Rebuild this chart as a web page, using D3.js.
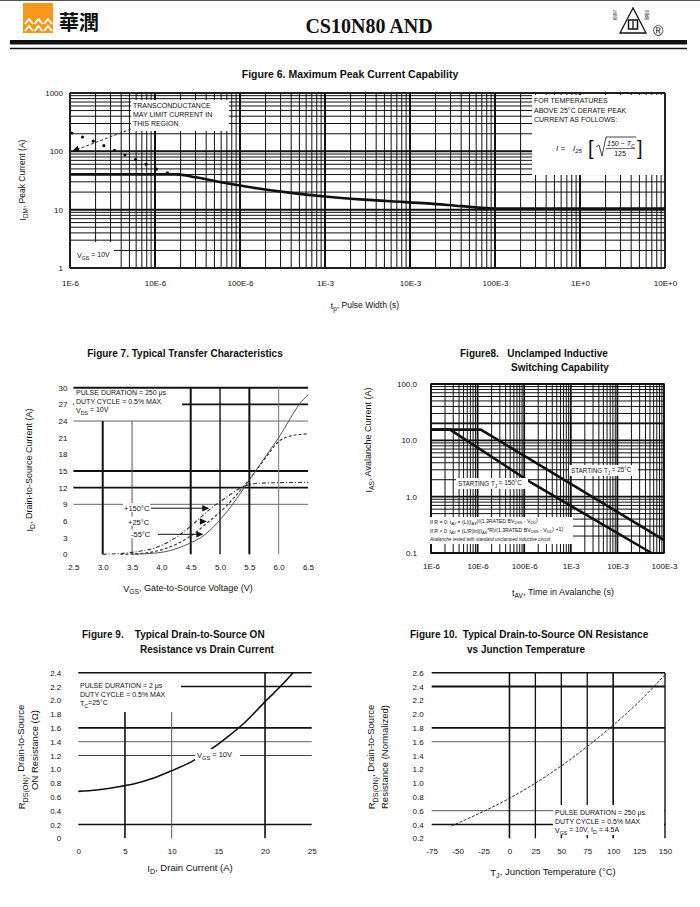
<!DOCTYPE html>
<meta charset="utf-8">
<script src="https://d3js.org/d3.v7.min.js"></script>
<style>
  body { margin: 0; background: #fff; }
  svg text { font-family: "Liberation Sans", Arial, sans-serif; fill: #111; white-space: pre; }
</style>
<div id="page"></div>
<script>

// ---------------- data ----------------

// Figure 6 - maximum peak current vs pulse width
var f6Width   = [1e-6, 1.8e-5, 3e-5, 7e-5, 1.5e-4, 4.2e-4, 1e-3, 2.6e-3, 6e-3, 1.6e-2, 4e-2, 8.5e-2, 1.2e-1, 10];
var f6Current = [40.3, 40.3, 36, 28.3, 23.5, 19.2, 16.8, 15, 13.9, 12.8, 11.5, 10.6, 10.5, 10.5];
// transconductance limit (dotted)
var f6LimWidth   = [1.05e-6, 2e-6, 3.7e-6, 6.8e-6, 1.3e-5, 1.9e-5];
var f6LimCurrent = [206, 144, 97, 66, 44, 40.3];
var f6XTicks = [1e-6, 1e-5, 1e-4, 1e-3, 1e-2, 1e-1, 1, 10];
var f6XLabels = ["1E-6", "10E-6", "100E-6", "1E-3", "10E-3", "100E-3", "1E+0", "10E+0"];
var f6YTicks = [1, 10, 100, 1000];

// Figure 7 - transfer characteristics (VGS, ID)
var vgs150 = [3.0, 3.5, 4.0, 4.3, 4.6, 4.85, 5.1, 5.4, 5.6, 6.0, 6.5];
var id150  = [0, 0.35, 1.6, 3.4, 6.0, 8.3, 10.2, 12.2, 12.75, 12.9, 12.95];
var vgs25  = [3.3, 3.7, 4.0, 4.5, 4.81, 5.1, 5.4, 5.6, 5.8, 6.0, 6.2, 6.5];
var id25   = [0, 0.2, 0.8, 3.3, 5.9, 8.6, 12.2, 14.9, 17.7, 20.3, 21.3, 21.7];
var vgsM55 = [3.5, 4.0, 4.4, 4.75, 5.0, 5.2, 5.4, 5.6, 5.8, 6.0, 6.2, 6.35, 6.5];
var idM55  = [0, 0.35, 1.6, 3.6, 6.2, 8.8, 11.8, 14.9, 18, 21, 24.5, 27, 28.7];
var f7Temps = ["+150°C", "+25°C", "-55°C"];
var f7ArrowVgs = [4.85, 4.81, 4.75];
var f7ArrowId  = [8.3, 5.9, 3.6];
var f7XTicks = [2.5, 3.0, 3.5, 4.0, 4.5, 5.0, 5.5, 6.0, 6.5];
var f7YTicks = [0, 3, 6, 9, 12, 15, 18, 21, 24, 27, 30];

// Figure 8 - unclamped inductive switching
var tav25  = [1e-6, 1.17e-5, 1e-1];
var ias25  = [15.5, 15.5, 0.17];
var tav150 = [1e-6, 2.56e-6, 1.45e-4, 5.4e-2];
var ias150 = [15.5, 15.5, 1.75, 0.1];
var f8XTicks = [1e-6, 1e-5, 1e-4, 1e-3, 1e-2, 1e-1];
var f8XLabels = ["1E-6", "10E-6", "100E-6", "1E-3", "10E-3", "100E-3"];
var f8YTicks = [0.1, 1, 10, 100];

// Figure 9 - RDS(on) vs drain current
var f9Id  = [0, 2, 4, 6, 8, 10, 12, 14, 16, 18, 20, 22, 23];
var f9Rds = [0.68, 0.70, 0.74, 0.79, 0.87, 0.98, 1.10, 1.27, 1.47, 1.70, 1.98, 2.25, 2.40];
var f9XTicks = [0, 5, 10, 15, 20, 25];
var f9YTicks = [0, 0.2, 0.4, 0.6, 0.8, 1.0, 1.2, 1.4, 1.6, 1.8, 2.0, 2.2, 2.4];

// Figure 10 - normalized RDS(on) vs junction temperature
var f10Tj  = [-56, -25, 0, 25, 50, 75, 100, 125, 150];
var f10Rds = [0.38, 0.59, 0.78, 1.0, 1.25, 1.53, 1.84, 2.18, 2.57];
var f10XTicks = [-75, -50, -25, 0, 25, 50, 75, 100, 125, 150];
var f10YTicks = [0.2, 0.4, 0.6, 0.8, 1.0, 1.2, 1.4, 1.6, 1.8, 2.0, 2.2, 2.4, 2.6];

// ---------------- helpers ----------------

var svg = d3.select("#page").append("svg")
    .attr("width", 700)
    .attr("height", 907)
    .style("background", "#fff");

function logValues(lo, hi) {
  var out = [];
  for (var e = Math.floor(Math.log10(lo)); e <= Math.ceil(Math.log10(hi)); e++)
    for (var m = 1; m <= 9; m++) {
      var v = m * Math.pow(10, e);
      if (v >= lo * 0.999 && v <= hi * 1.001) out.push(v);
    }
  return out;
}
function isDecade(v) { var l = Math.log10(v); return Math.abs(l - Math.round(l)) < 1e-9; }

// text with subscripts: parts = [["I"], ["DM", true], [", Peak Current (A)"]]
function rich(sel, parts) {
  var prevSub = false;
  parts.forEach(function(p) {
    var t = sel.append("tspan").text(p[0]);
    if (p[1]) { t.attr("font-size", "0.75em").attr("dy", prevSub ? 0 : "0.35em"); prevSub = true; }
    else if (prevSub) { t.attr("dy", "-0.35em"); prevSub = false; }
  });
  return sel;
}
function label(x, y, parts, size, anchor) {
  var t = svg.append("text").attr("x", x).attr("y", y)
      .attr("font-size", size || 9).attr("text-anchor", anchor || "start");
  return rich(t, parts);
}
function vlabel(x, y, parts, size) {
  var t = svg.append("text").attr("transform", "translate(" + x + "," + y + ") rotate(-90)")
      .attr("font-size", size || 9).attr("text-anchor", "middle");
  return rich(t, parts);
}
function title(x, y, txt, size, anchor) {
  svg.append("text").attr("x", x).attr("y", y).attr("font-size", size || 10)
      .attr("font-weight", "bold").attr("text-anchor", anchor || "middle").text(txt);
}
function hline(x1, x2, y, w, c) {
  svg.append("line").attr("x1", x1).attr("x2", x2).attr("y1", y).attr("y2", y)
      .attr("stroke", c || "#111").attr("stroke-width", w || 1);
}
function vline(x, y1, y2, w, c) {
  svg.append("line").attr("x1", x).attr("x2", x).attr("y1", y1).attr("y2", y2)
      .attr("stroke", c || "#111").attr("stroke-width", w || 1);
}
function whiteBox(x, y, w, h) {
  svg.append("rect").attr("x", x).attr("y", y).attr("width", w).attr("height", h).attr("fill", "#fff");
}
function styleAxis(g, size) {
  g.select(".domain").remove();
  g.attr("font-family", null).attr("font-size", size || 8);
  g.selectAll("text").attr("fill", "#111");
}
function curve(x, y, xs, ys, kind) {
  return d3.line().x(function(d) { return x(d[0]); }).y(function(d) { return y(d[1]); })
      .curve(kind || d3.curveMonotoneX)(d3.zip(xs, ys));
}
function arrowHead(tipX, tipY, angle, size) {
  var s = size || 6;
  svg.append("path").attr("d", "M0,0 L" + (-s) + "," + (-s / 2.2) + " L" + (-s) + "," + (s / 2.2) + "Z")
      .attr("transform", "translate(" + tipX + "," + tipY + ") rotate(" + angle + ")")
      .attr("fill", "#111");
}

// ---------------- page header ----------------

hline(0, 700, 0.5, 1, "#555");
svg.append("rect").attr("x", 23).attr("y", 3).attr("width", 30).attr("height", 30).attr("fill", "#f7981d");
[0, 1, 2].forEach(function(i) {
  [19, 26].forEach(function(yy) {
    var x0 = 25 + i * 9.5;
    svg.append("path").attr("d", "M" + x0 + "," + (yy + 5) + " L" + (x0 + 4) + "," + yy + " L" + (x0 + 8) + "," + (yy + 5))
        .attr("fill", "none").attr("stroke", "#fff").attr("stroke-width", 2);
  });
});
svg.append("text").attr("x", 59).attr("y", 30).attr("font-size", 20)
    .style("font-family", "'Noto Sans CJK TC'").attr("font-weight", "bold").text("華潤");
svg.append("text").attr("x", 369).attr("y", 33).attr("font-size", 20).attr("font-weight", "bold")
    .attr("text-anchor", "middle").style("font-family", "'Liberation Serif', 'Times New Roman', serif")
    .text("CS10N80 AND");
svg.append("path").attr("d", "M633,8 L620,33 L646,33 Z").attr("fill", "none").attr("stroke", "#111").attr("stroke-width", 1.3);
svg.append("rect").attr("x", 628.5).attr("y", 20).attr("width", 9).attr("height", 9).attr("fill", "none").attr("stroke", "#111").attr("stroke-width", 1.5);
vline(633, 21, 29, 1.3);
svg.append("text").attr("x", 615).attr("y", 10).attr("font-size", 5).style("font-family", "'Noto Sans CJK SC'").attr("writing-mode", "tb").text("认证");
svg.append("text").attr("x", 647).attr("y", 10).attr("font-size", 5).style("font-family", "'Noto Sans CJK SC'").attr("writing-mode", "tb").text("品质");
svg.append("text").attr("x", 653).attr("y", 36).attr("font-size", 14).text("®");
svg.append("rect").attr("x", 10).attr("y", 40).attr("width", 677).attr("height", 4.5).attr("fill", "#111");
hline(10, 687, 48.5, 1.3);

// ---------------- Figure 6 ----------------

var x6 = d3.scaleLog().domain([1e-6, 10]).range([70, 665]);
var y6 = d3.scaleLog().domain([1, 1000]).range([268, 93]);

title(350, 78, "Figure 6. Maximum Peak Current Capability", 10.5);

logValues(1e-6, 10).forEach(function(v) { vline(x6(v), 93, 268, isDecade(v) ? 2 : 1); });
logValues(1, 1000).forEach(function(v) { hline(70, 665, y6(v), isDecade(v) ? 2 : 1); });
svg.append("rect").attr("x", 70).attr("y", 93).attr("width", 595).attr("height", 175)
    .attr("fill", "none").attr("stroke", "#333");

// text boxes
whiteBox(131, 100, 98, 31);
label(133, 108, [["TRANSCONDUCTANCE"]], 7);
label(133, 117, [["MAY LIMIT CURRENT IN"]], 7);
label(133, 126, [["THIS REGION"]], 7);

whiteBox(532, 95, 132, 80);
label(534, 103, [["FOR TEMPERATURES"]], 7);
label(534, 113, [["ABOVE 25°C DERATE PEAK"]], 7);
label(534, 122, [["CURRENT AS FOLLOWS:"]], 7);
svg.append("text").attr("x", 556).attr("y", 151).attr("font-size", 8).attr("font-style", "italic").text("I =");
label(573, 151, [["I"], ["25", true]], 8).attr("font-style", "italic");
svg.append("text").attr("x", 588).attr("y", 155).attr("font-size", 20).attr("font-weight", "100").text("[");
svg.append("path").attr("d", "M596,147 L599,145 L602,156 L606,137 L636,137")
    .attr("fill", "none").attr("stroke", "#111").attr("stroke-width", 0.8);
label(607, 146, [["150 − T"], ["C", true]], 7).attr("font-style", "italic");
hline(606, 635, 148.5, 0.6);
label(620, 156, [["125"]], 7, "middle");
svg.append("text").attr("x", 637).attr("y", 155).attr("font-size", 20).attr("font-weight", "100").text("]");

whiteBox(71, 242, 43, 25);
label(77, 258, [["V"], ["GS", true], [" = 10V"]], 7);

// curves
svg.append("path").attr("d", curve(x6, y6, f6Width, f6Current))
    .attr("fill", "none").attr("stroke", "#111").attr("stroke-width", 2.6);
svg.append("path").attr("d", curve(x6, y6, f6LimWidth, f6LimCurrent))
    .attr("fill", "none").attr("stroke", "#111").attr("stroke-width", 3.2)
    .attr("stroke-linecap", "round").attr("stroke-dasharray", "0,11.5");
// annotation pointer from the text box to the limit line
var tip6 = [x6(1.06e-6), y6(100)];
svg.append("line").attr("x1", tip6[0]).attr("y1", tip6[1]).attr("x2", 131).attr("y2", 129)
    .attr("stroke", "#333").attr("stroke-dasharray", "3,2");
arrowHead(tip6[0], tip6[1], Math.atan2(tip6[1] - 129, tip6[0] - 131) * 180 / Math.PI, 7);

// axes
var ax6 = svg.append("g").attr("transform", "translate(70,0)")
    .call(d3.axisLeft(y6).tickValues(f6YTicks).tickFormat(d3.format("d")).tickSize(0).tickPadding(7));
styleAxis(ax6);
var bx6 = svg.append("g").attr("transform", "translate(0,268)")
    .call(d3.axisBottom(x6).tickValues(f6XTicks).tickFormat(function(d, i) { return f6XLabels[i]; }).tickSize(0).tickPadding(12));
styleAxis(bx6);
vlabel(26, 180, [["I"], ["DM", true], [", Peak Current (A)"]], 8.5);
label(365, 309, [["t"], ["p", true], [", Pulse Width (s)"]], 8.5, "middle");

// ---------------- Figure 7 ----------------

var x7 = d3.scaleLinear().domain([2.5, 6.5]).range([73.4, 308]);
var y7 = d3.scaleLinear().domain([0, 30]).range([554.3, 387.7]);

title(185, 357, "Figure 7. Typical Transfer Characteristics", 10);

hline(x7(2.5), x7(6.5), y7(30), 2);
hline(x7(2.5), x7(6.5), y7(27), 1.6);
hline(x7(2.5), x7(6.5), y7(24), 1, "#666");
hline(x7(2.5), x7(6.5), y7(15), 2);
hline(x7(2.5), x7(6.5), y7(12), 1.6);
hline(x7(2.5), x7(6.5), y7(9), 1, "#666");
vline(x7(3.0), y7(24), y7(0), 2);
vline(x7(3.5), y7(24), y7(0), 1, "#555");
vline(x7(4.5), y7(30), y7(0), 2);
vline(x7(5.0), y7(30), y7(0), 1.4);
vline(x7(5.5), y7(30), y7(0), 2);
vline(x7(6.0), y7(30), y7(0), 1, "#777");

whiteBox(74, 389, 108, 26);
label(76, 395, [["PULSE DURATION = 250 μs"]], 7);
label(76, 404, [["DUTY CYCLE = 0.5% MAX"]], 7);
label(76, 413, [["V"], ["DS", true], [" = 10V"]], 7);

svg.append("path").attr("d", curve(x7, y7, vgs150, id150))
    .attr("fill", "none").attr("stroke", "#333").attr("stroke-width", 1.1).attr("stroke-dasharray", "4,2,1,2");
svg.append("path").attr("d", curve(x7, y7, vgs25, id25))
    .attr("fill", "none").attr("stroke", "#333").attr("stroke-width", 1.1).attr("stroke-dasharray", "3,2");
svg.append("path").attr("d", curve(x7, y7, vgsM55, idM55))
    .attr("fill", "none").attr("stroke", "#444").attr("stroke-width", 0.9);

var f7LabelX = [124, 128, 131];
f7Temps.forEach(function(t, i) {
  var ty = y7(f7ArrowId[i]);
  var tx = x7(f7ArrowVgs[i]) - 2;
  whiteBox(f7LabelX[i] - 1, ty - 5, 27, 9);
  label(f7LabelX[i], ty + 3, [[t]], 7.5);
  if (i !== 1) hline(f7LabelX[i] + 27, tx - 5, ty, 1);
  arrowHead(tx, ty, 0, 7);
});

var ax7 = svg.append("g").attr("transform", "translate(73.4,0)")
    .call(d3.axisLeft(y7).tickValues(f7YTicks).tickFormat(d3.format("d")).tickSize(0).tickPadding(6));
styleAxis(ax7);
var bx7 = svg.append("g").attr("transform", "translate(0,554.3)")
    .call(d3.axisBottom(x7).tickValues(f7XTicks).tickFormat(d3.format(".1f")).tickSize(0).tickPadding(10));
styleAxis(bx7);
vlabel(33, 470, [["I"], ["D", true], [", Drain-to-Source Current (A)"]], 9);
label(188, 592, [["V"], ["GS", true], [", Gate-to-Source Voltage (V)"]], 9, "middle");

// ---------------- Figure 8 ----------------

var x8 = d3.scaleLog().domain([1e-6, 0.1]).range([431, 664]);
var y8 = d3.scaleLog().domain([0.1, 100]).range([553, 384]);

title(460, 357, "Figure8.   Unclamped Inductive", 10, "start");
title(511, 371, "Switching Capability", 10, "start");

logValues(1e-6, 0.1).forEach(function(v) { vline(x8(v), 384, 553, isDecade(v) ? 1.8 : 1); });
logValues(0.1, 100).forEach(function(v) { hline(431, 664, y8(v), isDecade(v) ? 1.8 : 1); });
hline(431, 664, y8(20), 1.8);
svg.append("rect").attr("x", 431).attr("y", 384).attr("width", 233).attr("height", 169)
    .attr("fill", "none").attr("stroke", "#111").attr("stroke-width", 1.5);

whiteBox(429, 517, 144, 27);
label(430, 524, [["If R = 0: t"], ["AV", true], [" = (L)(I"], ["AS", true], [")/(1.3RATED BV"], ["DSS", true], [" - V"], ["DD", true], [")"]], 5.2);
label(430, 533, [["If R ≠ 0: t"], ["AV", true], [" = (L/R)ln[(I"], ["AS", true], ["*R)/(1.3RATED BV"], ["DSS", true], [" - V"], ["DD", true], [") +1]"]], 5.2);
label(430, 541, [["Avalanche tested with standard unclamped inductive circuit"]], 4.6).attr("font-style", "italic");

svg.append("path").attr("d", curve(x8, y8, tav25, ias25, d3.curveLinear))
    .attr("fill", "none").attr("stroke", "#111").attr("stroke-width", 2.6);
svg.append("path").attr("d", curve(x8, y8, tav150, ias150, d3.curveLinear))
    .attr("fill", "none").attr("stroke", "#111").attr("stroke-width", 2.6);

whiteBox(569, 465, 69, 11);
label(571, 473, [["STARTING T"], ["J", true], [" = 25°C"]], 6.3);
whiteBox(456, 478, 72, 11);
label(458, 486, [["STARTING T"], ["J", true], [" = 150°C"]], 6.3);

var ax8 = svg.append("g").attr("transform", "translate(431,0)")
    .call(d3.axisLeft(y8).tickValues(f8YTicks).tickFormat(d3.format(".1f")).tickSize(0).tickPadding(14));
styleAxis(ax8);
var bx8 = svg.append("g").attr("transform", "translate(0,553)")
    .call(d3.axisBottom(x8).tickValues(f8XTicks).tickFormat(function(d, i) { return f8XLabels[i]; }).tickSize(0).tickPadding(10));
styleAxis(bx8);
vlabel(372, 440, [["I"], ["AS", true], [", Avalanche Current (A)"]], 9);
label(563, 596, [["t"], ["AV", true], [", Time in Avalanche (s)"]], 9, "middle");

// ---------------- Figure 9 ----------------

var x9 = d3.scaleLinear().domain([0, 25]).range([78.3, 311.7]);
var y9 = d3.scaleLinear().domain([0, 2.4]).range([838.3, 672.7]);

title(82, 638, "Figure 9.    Typical Drain-to-Source ON", 10, "start");
title(140, 653, "Resistance vs Drain Current", 10, "start");

hline(x9(0), x9(25), y9(2.4), 1.6);
hline(x9(0), x9(25), y9(2.2), 1.6);
hline(x9(0), x9(25), y9(1.6), 1.6);
hline(x9(0), x9(25), y9(1.4), 1, "#666");
hline(x9(0), x9(25), y9(1.2), 1, "#444");
hline(x9(0), x9(25), y9(0.2), 1.6);
vline(x9(5), y9(1.83), y9(0), 1.6);
vline(x9(10), y9(1.83), y9(0), 1, "#555");
vline(x9(20), y9(2.4), y9(0), 1.6);

whiteBox(78, 677, 103, 31);
label(80, 688, [["PULSE DURATION = 2 μs"]], 7);
label(80, 697, [["DUTY CYCLE = 0.5% MAX"]], 7);
label(80, 706, [["T"], ["C", true], ["=25°C"]], 7);

svg.append("path").attr("d", curve(x9, y9, f9Id, f9Rds))
    .attr("fill", "none").attr("stroke", "#111").attr("stroke-width", 1.6);

whiteBox(195, 749, 45, 12);
label(197, 758, [["V"], ["GS", true], [" = 10V"]], 7.5);

var ax9 = svg.append("g").attr("transform", "translate(78.3,0)")
    .call(d3.axisLeft(y9).tickValues(f9YTicks).tickFormat(function(d) { return d === 0 ? "0" : d3.format(".1f")(d); }).tickSize(0).tickPadding(17));
styleAxis(ax9);
var bx9 = svg.append("g").attr("transform", "translate(0,838.3)")
    .call(d3.axisBottom(x9).tickValues(f9XTicks).tickFormat(d3.format("d")).tickSize(0).tickPadding(10));
styleAxis(bx9);
vlabel(25, 757, [["R"], ["DS(ON)", true], [", Drain-to-Source"]], 9.5);
vlabel(38, 750, [["ON Resistance (Ω)"]], 9.5);
label(190, 872, [["I"], ["D", true], [", Drain Current (A)"]], 9.5, "middle");

// ---------------- Figure 10 ----------------

var x10 = d3.scaleLinear().domain([-75, 150]).range([431.7, 665]);
var y10 = d3.scaleLinear().domain([0.2, 2.6]).range([838.3, 672.7]);

title(410, 638, "Figure 10.  Typical Drain-to-Source ON Resistance", 10, "start");
title(467, 653, "vs Junction Temperature", 10, "start");

hline(x10(-75), x10(150), y10(2.6), 1.6);
hline(x10(-75), x10(150), y10(2.4), 1.8);
hline(x10(-75), x10(150), y10(1.8), 1.6);
hline(x10(-75), x10(150), y10(1.6), 1, "#666");
hline(x10(-75), x10(150), y10(0.6), 1, "#555");
hline(x10(-75), x10(150), y10(0.4), 1.6);
[0, 25, 50, 75, 100].forEach(function(v, i) { vline(x10(v), y10(2.6), y10(0.2), i === 0 || i === 4 ? 1.6 : 1.3); });
vline(x10(150), y10(2.6), y10(0.2), 1.4);

whiteBox(553, 805, 111, 30);
label(555, 815, [["PULSE DURATION = 250 μs"]], 7);
label(555, 824, [["DUTY CYCLE = 0.5% MAX"]], 7);
label(555, 833, [["V"], ["GS", true], [" = 10V, I"], ["D", true], [" = 4.5A"]], 7);

svg.append("path").attr("d", curve(x10, y10, f10Tj, f10Rds))
    .attr("fill", "none").attr("stroke", "#333").attr("stroke-width", 1).attr("stroke-dasharray", "3,1.5");

var ax10 = svg.append("g").attr("transform", "translate(431.7,0)")
    .call(d3.axisLeft(y10).tickValues(f10YTicks).tickFormat(d3.format(".1f")).tickSize(0).tickPadding(8));
styleAxis(ax10);
var bx10 = svg.append("g").attr("transform", "translate(0,838.3)")
    .call(d3.axisBottom(x10).tickValues(f10XTicks).tickFormat(function(d) { return String(d); }).tickSize(0).tickPadding(10));
styleAxis(bx10);
vlabel(375, 757, [["R"], ["DS(ON)", true], [", Drain-to-Source"]], 9.5);
vlabel(388, 757, [["Resistance (Normalized)"]], 9.5);
label(553, 876, [["T"], ["J", true], [", Junction Temperature (°C)"]], 9.5, "middle");

</script>
